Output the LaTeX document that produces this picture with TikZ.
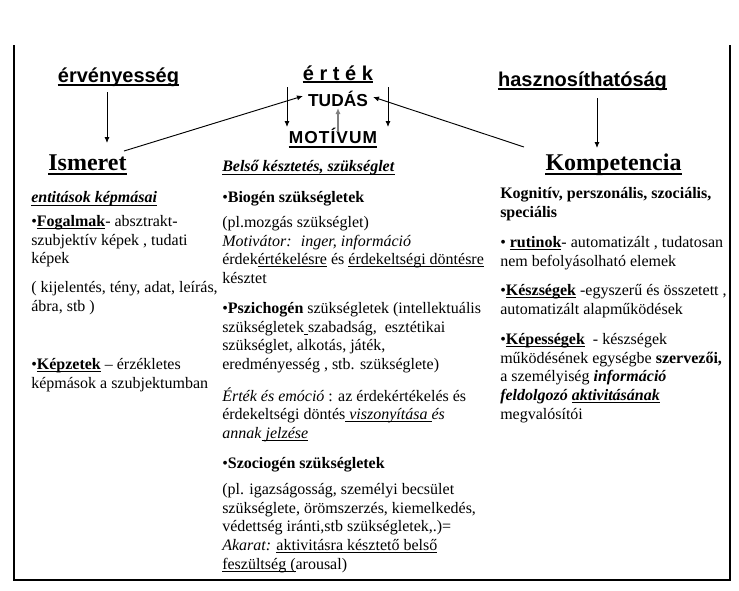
\documentclass[tikz,border=0pt]{standalone}
\usepackage{fontspec}
\setmainfont{Liberation Serif}
\newfontfamily\arial{Liberation Sans}
\newfontfamily\arialsp[LetterSpace=6]{Liberation Sans}
\usetikzlibrary{arrows.meta,calc}
\newcommand\uln[1]{\leavevmode\setbox0\hbox{#1}\rlap{\rule[-1.8pt]{\wd0}{0.6pt}}\box0\relax}

\begin{document}
\begin{tikzpicture}[x=0.75pt, y=-0.75pt,
	headsans/.style={font=\arial\bfseries\fontsize{15}{18}\selectfont, inner sep=0pt, anchor=base},
	headserif/.style={font=\bfseries\fontsize{18}{21}\selectfont, inner sep=0pt, anchor=base},
	para/.style={font=\fontsize{12}{14}\selectfont, inner sep=0pt, anchor=north west, align=left, execute at begin node=\rule{0pt}{11pt}},
	ulline/.style={line width=1.4pt},
	arr/.style={-{Latex[length=4.5pt,width=3.8pt]}, line width=0.7pt}]
			%%%%% START %%%%%
			\useasboundingbox (0,0) rectangle (739,590);
			
			\draw[line width=0.9pt] (14,45) -- (14,580) -- (730,580) -- (730,45);
			
			%%%%% TOP ROW %%%%%
			\node[headsans] (erv) at (118.5,82) {érvényesség};
			\node[headsans] (ertek) at (338,80) {é r t é k};
			\node[headsans] (haszn) at (582.5,86) {hasznosíthatóság};
			\node[headsans, font=\arial\bfseries\fontsize{13}{16}\selectfont] (tudas) at (338,106) {TUDÁS};
			\node[headsans, font=\arialsp\bfseries\fontsize{13}{16}\selectfont] (motivum) at (333,143) {MOTÍVUM};
			
			\node[headserif] (ismeret) at (87.5,170) {Ismeret};
			\node[headserif] (komp) at (613.5,170) {Kompetencia};
			
			\draw[ulline] ($(erv.base west)+(0,2.6)$) -- ($(erv.base east)+(0,2.6)$);
			\draw[ulline] ($(ertek.base west)+(0,2.2)$) -- ($(ertek.base east)+(0,2.2)$);
			\draw[ulline] ($(haszn.base west)+(0,3)$) -- ($(haszn.base east)+(0,3)$);
			\draw[ulline] ($(motivum.base west)+(0,4)$) -- ($(motivum.base east)+(0,4)$);
			\draw[ulline] ($(ismeret.base west)+(0,4)$) -- ($(ismeret.base east)+(0,4)$);
			\draw[ulline] ($(komp.base west)+(0,4)$) -- ($(komp.base east)+(0,4)$);
			
			\draw[arr] ($(erv.base)+(-11.5,10)$) -- ($(ismeret.base)+(19.5,-27)$);
			\draw[arr] ($(haszn.base)+(14.5,12)$) -- ($(komp.base)+(-16.5,-22)$);
			\draw[arr] ($(ismeret.base)+(36.5,-19)$) -- ($(tudas.base)+(-35,-10)$);
			\draw[arr] ($(komp.base)+(-89.5,-23)$) -- ($(tudas.base)+(35,-9)$);
			\draw[arr] ($(ertek.base)+(-51,7)$) -- ($(motivum.base)+(-46,-16)$);
			\draw[arr] ($(ertek.base)+(50,7)$) -- ($(motivum.base)+(55,-16)$);
			\draw[arr, line width=1.1pt, color=black!50] ($(motivum.base)+(5,-11)$) -- ($(tudas.base)+(0,2)$);
			
			%%%%% ISMERET %%%%%
			\node[para] (entit) at (31,188) {\uln{\textbf{\textit{entitások képmásai}}}};
			\node[para] (fogalm) at (31,215) {•\uln{\textbf{Fogalmak}}- absztrakt-\\szubjektív képek , tudati\\képek};
			\node[para] (kijel) at (31,281) {( kijelentés, tény, adat, leírás,\\ábra, stb )};
			\node[para] (kepz) at (31,358) {•\uln{\textbf{Képzetek}} – érzékletes\\képmások a szubjektumban};
			
			%%%%% MOTIVUM %%%%%
			\node[para] (belso) at (222,157) {\uln{\textbf{\textit{Belső késztetés, szükséglet}}}};
			\node[para] (biogen) at (222,188) {•\textbf{Biogén szükségletek}};
			\node[para] (mozgas) at (222,216) {(pl.mozgás szükséglet)\\\textit{Motivátor:~ inger, információ}\\érdek\uln{értékelésre} és \uln{érdekeltségi döntésre}\\késztet};
			\node[para] (pszich) at (222,302) {•\textbf{Pszichogén} szükségletek (intellektuális\\szükségletek\uln{\ }szabadság,~ esztétikai\\szükséglet, alkotás, játék,\\eredményesség , stb. szükséglete)};
			\node[para] (emocio) at (222,387) {\textit{Érték és emóció} : az érdekértékelés és\\érdekeltségi döntés\uln{\ }\uln{\textit{viszonyítása }}\textit{és}\\\textit{annak}\uln{\ \textit{jelzése}}};
			\node[para] (szocio) at (222,454) {•\textbf{Szociogén szükségletek}};
			\node[para] (akarat) at (222,483) {(pl. igazságosság, személyi becsület\\szükséglete, örömszerzés, kiemelkedés,\\védettség iránti,stb szükségletek,.)=\\\textit{Akarat:} \uln{aktivitásra késztető belső}\\\uln{feszültség (}arousal)};
			
			%%%%% KOMPETENCIA %%%%%
			\node[para] (kognit) at (500,187) {\textbf{Kognitív, perszonális, szociális,}\\\textbf{speciális}};
			\node[para] (rutin) at (500,236) {• \uln{\textbf{rutinok}}- automatizált , tudatosan\\nem befolyásolható elemek};
			\node[para] (kesz) at (500,284) {•\uln{\textbf{Készségek}} -egyszerű és összetett ,\\automatizált alapműködések};
			\node[para] (kepess) at (500,333) {•\uln{\textbf{Képességek}}~ - készségek\\működésének egységbe \textbf{szervezői,}\\a személyiség \textbf{\textit{információ}}\\\textbf{\textit{feldolgozó \uln{aktivitásának}}}\\megvalósítói};
			
			%%%%% END %%%%%
		\end{tikzpicture}
\end{document}
